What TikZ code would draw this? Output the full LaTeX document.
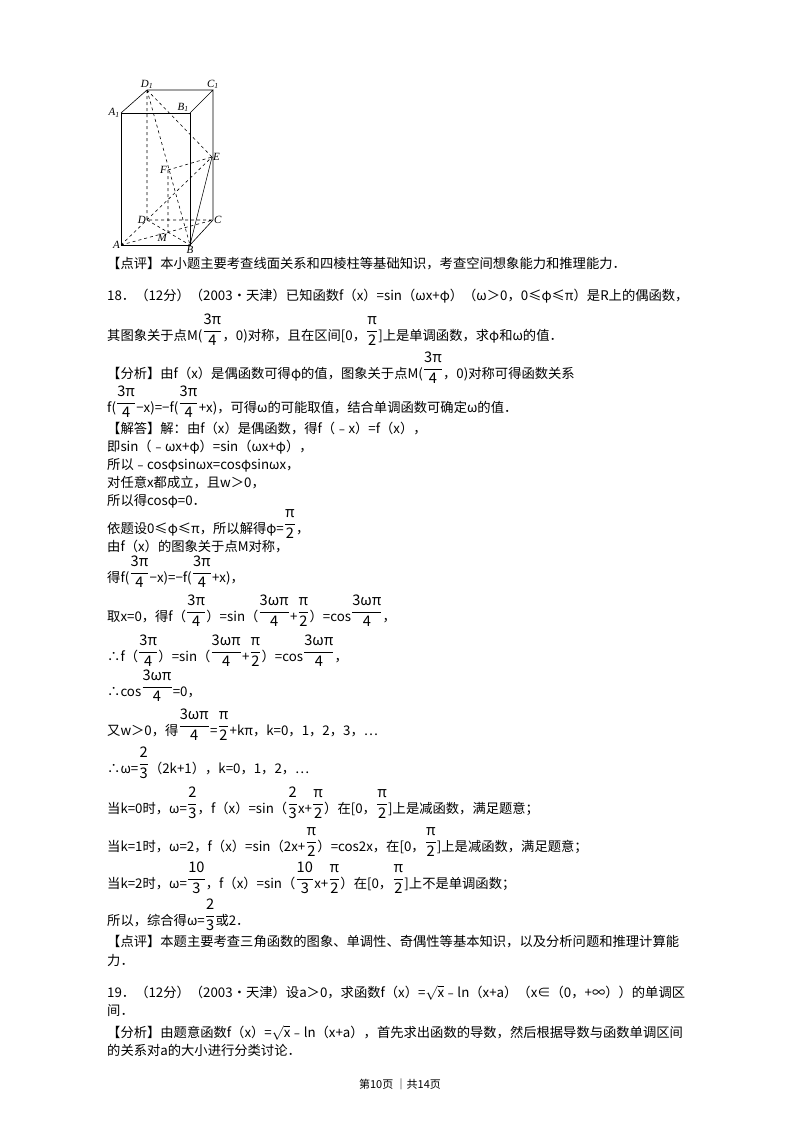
\documentclass[tikz,border=0pt]{standalone}
\usepackage{fontspec}
\usepackage{amsmath}
\usepackage{graphicx}
\setmainfont{Noto Sans CJK SC}
\newfontfamily\labfont{Liberation Serif}
\newcommand{\fr}[2]{\raisebox{0.7ex}{\scalebox{1.1}{$\dfrac{\text{#1}}{\text{#2}}$}}}
\begin{document}
\begin{tikzpicture}[x=1pt,y=-1pt,
  tl/.style={anchor=base west,inner sep=0pt,font=\fontsize{13.3}{15}\selectfont},
  lab/.style={font=\labfont\fontsize{11}{12}\selectfont\itshape,inner sep=1pt},
  hid/.style={dashed,semithick},
  vis/.style={thick}]
\useasboundingbox (0,0) rectangle (800,1132);
\fill[white] (0,0) rectangle (800,1132);
% figure
\coordinate (A1) at (121,113); \coordinate (B1) at (190,113);
\coordinate (D1) at (147,90); \coordinate (C1) at (213,90);
\coordinate (A) at (121,245); \coordinate (B) at (190,245);
\coordinate (D) at (147,220); \coordinate (C) at (213,220);
\coordinate (E) at (212,157); \coordinate (F) at (168,170);
\coordinate (M) at (168,233);
\draw[vis] (A1)--(B1)--(B)--(A)--cycle;
\draw[semithick] (A1)--(D1)--(C1)--(B1) (C1)--(C)--(B) (B)--(E);
\draw[hid] (D1)--(D)--(C) (A)--(E) (D1)--(E) (D1)--(B) (F)--(M) (F)--(E) (A)--(C) (D)--(B);
\node[lab,anchor=south] at (D1) {D\textsubscript{1}};
\node[lab,anchor=south] at (C1) {C\textsubscript{1}};
\node[lab,anchor=east] at (A1) {A\textsubscript{1}};
\node[lab,anchor=south east] at (B1) {B\textsubscript{1}};
\node[lab,anchor=east] at (A) {A};
\node[lab,anchor=north] at (B) {B};
\node[lab,anchor=west] at (C) {C};
\node[lab,anchor=east] at (D) {D};
\node[lab,anchor=west] at (E) {E};
\node[lab,anchor=east] at (F) {F};
\node[lab,anchor=north east] at (M) {M};
% text
\node[tl] (t1) at (107,268) {【点评】本小题主要考查线面关系和四棱柱等基础知识，考查空间想象能力和推理能力．};
\node[tl] (t2) at (107,300) {18．（12分）（2003•天津）已知函数f（x）=sin（ωx+φ）（ω＞0，0≤φ≤π）是R上的偶函数，};
\node[tl] (t3) at (107,340) {其图象关于点M(\fr{3π}{4}，0)对称，且在区间[0，\fr{π}{2}]上是单调函数，求φ和ω的值．};
\node[tl] (t4) at (107,378) {【分析】由f（x）是偶函数可得φ的值，图象关于点M(\fr{3π}{4}，0)对称可得函数关系};
\node[tl] (t5) at (107,412) {f(\fr{3π}{4}−x)=−f(\fr{3π}{4}+x)，可得ω的可能取值，结合单调函数可确定ω的值．};
\node[tl] (t6) at (107,433) {【解答】解：由f（x）是偶函数，得f（﹣x）=f（x），};
\node[tl] (t7) at (107,451) {即sin（﹣ωx+φ）=sin（ωx+φ），};
\node[tl] (t8) at (107,469) {所以﹣cosφsinωx=cosφsinωx，};
\node[tl] (t9) at (107,487) {对任意x都成立，且w＞0，};
\node[tl] (t10) at (107,505) {所以得cosφ=0．};
\node[tl] (t11) at (107,533) {依题设0≤φ≤π，所以解得φ=\fr{π}{2}，};
\node[tl] (t12) at (107,551) {由f（x）的图象关于点M对称，};
\node[tl] (t13) at (107,582) {得f(\fr{3π}{4}−x)=−f(\fr{3π}{4}+x)，};
\node[tl] (t14) at (107,621) {取x=0，得f（\fr{3π}{4}）=sin（\fr{3ωπ}{4}+\fr{π}{2}）=cos\fr{3ωπ}{4}，};
\node[tl] (t15) at (107,661) {∴f（\fr{3π}{4}）=sin（\fr{3ωπ}{4}+\fr{π}{2}）=cos\fr{3ωπ}{4}，};
\node[tl] (t16) at (107,696) {∴cos\fr{3ωπ}{4}=0，};
\node[tl] (t17) at (107,735) {又w＞0，得\fr{3ωπ}{4}=\fr{π}{2}+kπ，k=0，1，2，3，…};
\node[tl] (t18) at (107,773) {∴ω=\fr{2}{3}（2k+1），k=0，1，2，…};
\node[tl] (t19) at (107,813) {当k=0时，ω=\fr{2}{3}，f（x）=sin（\fr{2}{3}x+\fr{π}{2}）在[0，\fr{π}{2}]上是减函数，满足题意；};
\node[tl] (t20) at (107,851) {当k=1时，ω=2，f（x）=sin（2x+\fr{π}{2}）=cos2x，在[0，\fr{π}{2}]上是减函数，满足题意；};
\node[tl] (t21) at (107,888) {当k=2时，ω=\fr{10}{3}，f（x）=sin（\fr{10}{3}x+\fr{π}{2}）在[0，\fr{π}{2}]上不是单调函数；};
\node[tl] (t22) at (107,925) {所以，综合得ω=\fr{2}{3}或2．};
\node[tl] (t23) at (107,946) {【点评】本题主要考查三角函数的图象、单调性、奇偶性等基本知识，以及分析问题和推理计算能};
\node[tl] (t24) at (107,965) {力．};
\node[tl] (t25) at (107,997) {19．（12分）（2003•天津）设a＞0，求函数f（x）=$\sqrt{\text{x}}$﹣ln（x+a）（x∈（0，+∞））的单调区};
\node[tl] (t26) at (107,1015) {间．};
\node[tl] (t27) at (107,1037) {【分析】由题意函数f（x）=$\sqrt{\text{x}}$﹣ln（x+a），首先求出函数的导数，然后根据导数与函数单调区间};
\node[tl] (t28) at (107,1055) {的关系对a的大小进行分类讨论．};
\node[anchor=base,inner sep=0pt,font=\fontsize{11}{13}\selectfont] (pg) at (400,1088) {第10页 ｜共14页};
\end{tikzpicture}
\end{document}
